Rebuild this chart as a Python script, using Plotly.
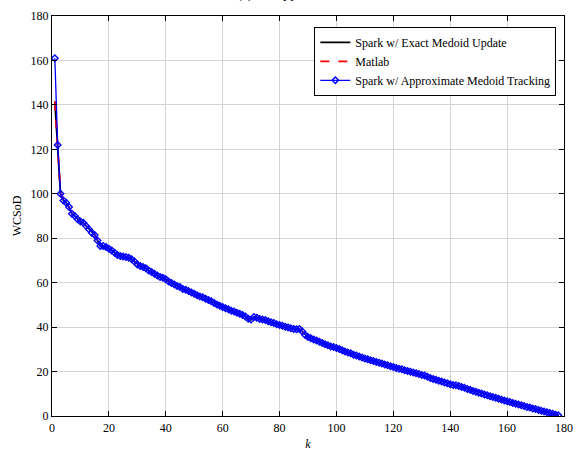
import plotly.graph_objects as go

k = list(range(1, 179))

exact = [141.5, 119, 100, 97, 96, 94, 91, 90, 88.5, 87.5,
         87, 85.5, 84, 82.5, 81.5, 79, 76.5, 76.5, 76, 75.3,
         74.5, 73.5, 72.5, 72, 71.8, 71.5, 71.2, 70.5, 69.5, 68.2,
         67.5, 67, 66.5, 65.5, 64.8, 64, 63.2, 62.6, 62.2, 61.5,
         60.5, 59.8, 59.2, 58.5, 58, 57.2, 56.8, 56.2, 55.6, 55,
         54.3, 53.8, 53.4, 52.8, 52.2, 51.6, 50.8, 50.2, 49.6, 49,
         48.5, 48, 47.4, 47, 46.5, 46, 45.5, 44.8, 43.8, 43.4,
         44.6, 44.2, 43.6, 43.4, 43.2, 42.6, 42.2, 41.8, 41.3, 41,
         40.6, 40.2, 39.8, 39.5, 39.2, 39, 39.2, 38, 36.5, 35.5,
         35, 34.4, 34, 33.4, 32.8, 32.3, 31.8, 31.3, 31, 30.6,
         30.2, 29.6, 29, 28.6, 28.2, 27.6, 27.2, 26.8, 26.3, 25.9,
         25.5, 25.1, 24.7, 24.3, 24, 23.6, 23.2, 22.8, 22.4, 22,
         21.6, 21.3, 21, 20.6, 20.3, 19.9, 19.6, 19.2, 18.9, 18.5,
         18.2, 17.7, 17.1, 16.7, 16.3, 15.9, 15.5, 15.1, 14.7, 14.3,
         14, 13.8, 13.5, 13.1, 12.7, 12.2, 11.8, 11.3, 10.9, 10.5,
         10.1, 9.7, 9.3, 8.9, 8.5, 8.2, 7.8, 7.4, 7.0, 6.6,
         6.3, 5.9, 5.5, 5.2, 4.8, 4.5, 4.1, 3.8, 3.4, 3.1,
         2.7, 2.4, 2.0, 1.7, 1.3, 1.0, 0.6, 0.3]

matlab = list(exact)

approx = [161, 122] + exact[2:]

x_ticks = [0, 20, 40, 60, 80, 100, 120, 140, 160, 180]
y_ticks = [0, 20, 40, 60, 80, 100, 120, 140, 160, 180]

FONT = "Liberation Serif"

fig = go.Figure()
fig.add_trace(go.Scatter(x=k, y=exact, mode="lines", name="Spark w/ Exact Medoid Update",
                         line=dict(color="black", width=1.8)))
fig.add_trace(go.Scatter(x=k, y=matlab, mode="lines", name="Matlab",
                         line=dict(color="red", width=1.8, dash="dash")))
fig.add_trace(go.Scatter(x=k, y=approx, mode="lines+markers", name="Spark w/ Approximate Medoid Tracking",
                         line=dict(color="blue", width=1.3),
                         marker=dict(symbol="diamond-open", size=5, color="blue",
                                     line=dict(width=1.4, color="blue"))))

axis_common = dict(
    showgrid=True, gridcolor="#d4d4d4", gridwidth=1,
    showline=True, linecolor="black", linewidth=1.2, mirror="ticks",
    ticks="inside", ticklen=5, tickcolor="black",
    zeroline=False,
    tickfont=dict(family=FONT, size=12, color="black"),
)

fig.update_xaxes(range=[0, 180], tickvals=x_ticks, ticktext=[str(v) for v in x_ticks],
                 ticklabeloverflow="allow",
                 title=dict(text="<i>k</i>", font=dict(family=FONT, size=12, color="black"), standoff=6),
                 **axis_common)
fig.update_yaxes(range=[0, 180], tickvals=y_ticks, ticktext=[str(v) for v in y_ticks],
                 title=dict(text="WCSoD", font=dict(family=FONT, size=12, color="black"), standoff=6),
                 **axis_common)

fig.add_annotation(text="(a) Covtype Dataset", xref="paper", yref="paper",
                   x=0.47, y=1.0, yshift=12, xanchor="center", yanchor="bottom",
                   showarrow=False, font=dict(family=FONT, size=14, color="black"))

fig.update_layout(
    width=580, height=456,
    margin=dict(l=52, r=7, t=16, b=29),
    paper_bgcolor="white", plot_bgcolor="white",
    font=dict(family=FONT, size=12, color="black"),
    legend=dict(x=0.985, y=0.973, xanchor="right", yanchor="top",
                bgcolor="white", bordercolor="black", borderwidth=1,
                font=dict(family=FONT, size=12, color="black"),
                tracegroupgap=0, itemwidth=30),
    showlegend=True,
)

fig.write_html("out.html")
